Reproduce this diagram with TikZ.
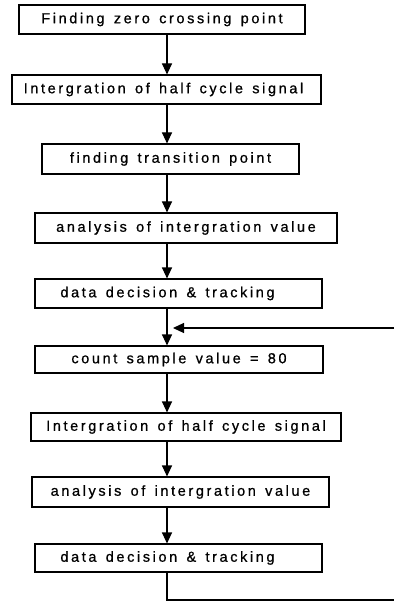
\documentclass[tikz,border=0pt]{standalone}
\usepackage{fontspec}
\setmainfont{Liberation Sans}[LetterSpace=18,WordSpace=1.4,FakeBold=0.8]
\usetikzlibrary{arrows.meta}
\begin{document}
\begin{tikzpicture}[x=1pt,y=-1pt,
  stepbox/.style={draw,line width=1.1pt,inner sep=0pt,minimum height=29pt,
    font=\fontsize{14.5}{16}\selectfont},
  arr/.style={line width=1.1pt,-{Triangle[width=10pt,length=11pt]}},
  wire/.style={line width=1.1pt}]
\useasboundingbox (0,0) rectangle (394,601);
% process steps
\node[stepbox,minimum width=286pt,minimum height=29pt] (b1) at (162,19.5) {Finding zero crossing point};
\node[stepbox,minimum width=309pt,minimum height=29pt] (b2) at (166.5,89.5) {Intergration of half cycle signal\kern6pt};
\node[stepbox,minimum width=257pt,minimum height=30pt] (b3) at (170.5,159) {finding transition point};
\node[stepbox,minimum width=302pt,minimum height=30pt] (b4) at (186,228) {analysis of intergration value};
\node[stepbox,minimum width=287pt,minimum height=29pt] (b5) at (178.5,293.5) {data decision \& tracking\kern22pt};
\node[stepbox,minimum width=288pt,minimum height=27pt] (b6) at (179,359.5) {count sample value = 80};
\node[stepbox,minimum width=310pt,minimum height=28pt] (b7) at (186,427) {Intergration of half cycle signal};
\node[stepbox,minimum width=297pt,minimum height=30pt] (b8) at (180.5,492) {analysis of intergration value};
\node[stepbox,minimum width=287pt,minimum height=28pt] (b9) at (178.5,558) {data decision \& tracking\kern22pt};
% flow axis and loop-back ends
\coordinate (axis) at (167,0);
\coordinate (fbin) at (394,328);
\coordinate (fbtip) at (173,328);
\coordinate (fbout) at (394,600);
% arrows between steps
\draw[arr] (b1.south -| axis) -- (b2.north -| axis);
\draw[arr] (b2.south -| axis) -- (b3.north -| axis);
\draw[arr] (b3.south -| axis) -- (b4.north -| axis);
\draw[arr] (b4.south -| axis) -- (b5.north -| axis);
\draw[arr] (b5.south -| axis) -- (b6.north -| axis);
\draw[arr] (b6.south -| axis) -- (b7.north -| axis);
\draw[arr] (b7.south -| axis) -- (b8.north -| axis);
\draw[arr] (b8.south -| axis) -- (b9.north -| axis);
% loop back
\draw[wire] (b9.south -| axis) |- (fbout);
\draw[arr] (fbin) -- (fbtip);
\end{tikzpicture}
\end{document}
